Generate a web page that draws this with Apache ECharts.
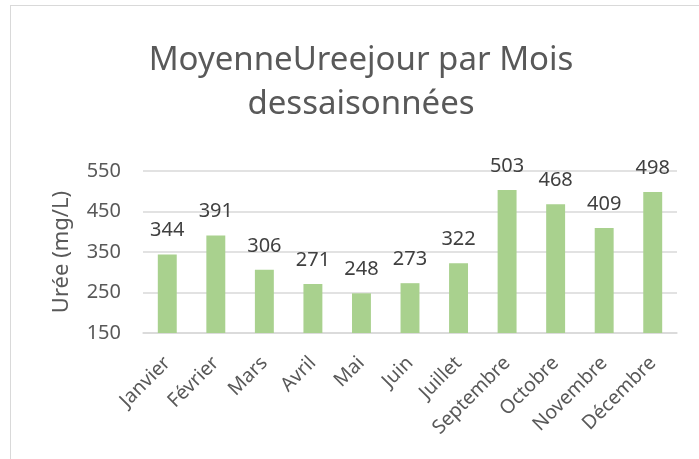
<!DOCTYPE html>
<html>
<head>
<meta charset="utf-8">
<script src="https://cdn.jsdelivr.net/npm/echarts@6/dist/echarts.min.js"></script>
<style>
  html, body { margin: 0; padding: 0; background: #fff; }
  #chart { width: 699px; height: 459px; }
  #frame { position: absolute; left: 10px; top: 5px; width: 720px; height: 500px;
           border: 1px solid #d9d9d9; pointer-events: none; }
</style>
</head>
<body>
<div id="chart"></div>
<div id="frame"></div>
<script>
const months = ['Janvier', 'Février', 'Mars', 'Avril', 'Mai', 'Juin', 'Juillet',
  'Septembre', 'Octobre', 'Novembre', 'Décembre'];
const uree = [344, 391, 306, 271, 248, 273, 322, 503, 468, 409, 498];
const yTicks = [150, 250, 350, 450, 550];

const font = 'Noto Sans';

const chart = echarts.init(document.getElementById('chart'));
chart.setOption({
  animation: false,
  textStyle: { fontFamily: font },
  title: {
    text: 'MoyenneUreejour par Mois\ndessaisonnées',
    left: 356,
    top: 34,
    textAlign: 'center',
    textStyle: { fontFamily: font, fontSize: 33, fontWeight: 'normal', color: '#595959', lineHeight: 44 }
  },
  grid: { left: 143, right: 22, top: 171, bottom: 126 },
  xAxis: {
    type: 'category',
    data: months,
    axisLine: { lineStyle: { color: '#d9d9d9', width: 1.5 } },
    axisTick: { show: false },
    axisLabel: { rotate: 45, margin: 27, fontSize: 19.5, color: '#595959', interval: 0 }
  },
  yAxis: {
    type: 'value',
    min: yTicks[0],
    max: yTicks[yTicks.length - 1],
    interval: 100,
    name: 'Urée (mg/L)',
    nameLocation: 'middle',
    nameRotate: 90,
    nameGap: 70,
    nameTextStyle: { fontSize: 22, color: '#595959' },
    axisLine: { show: false },
    axisTick: { show: false },
    axisLabel: { fontSize: 20, color: '#595959', margin: 22 },
    splitLine: { lineStyle: { color: '#d9d9d9', width: 1.5 } }
  },
  series: [{
    type: 'bar',
    data: uree,
    barWidth: '39%',
    itemStyle: { color: '#a9d18e' },
    label: { show: true, position: 'top', distance: 14, fontSize: 20, color: '#404040' }
  }]
});
</script>
</body>
</html>
